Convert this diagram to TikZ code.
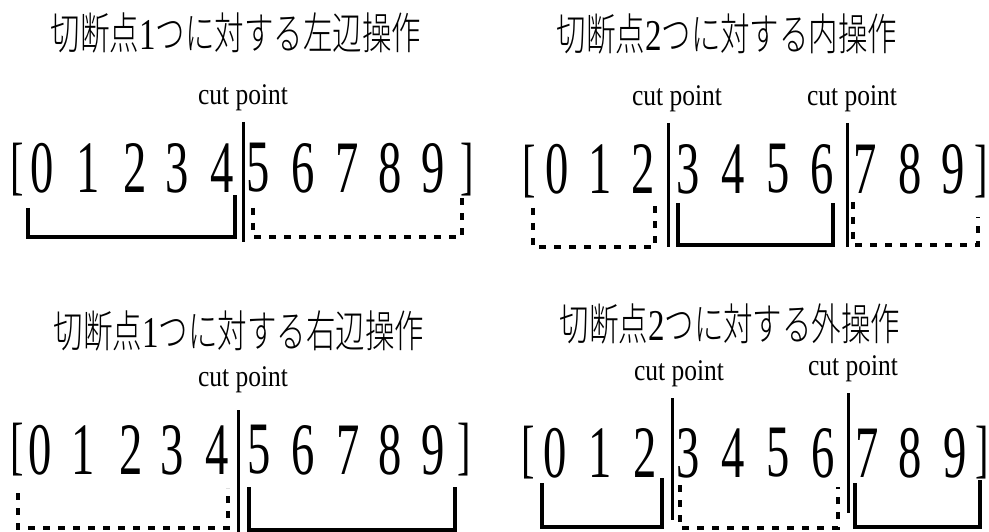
\documentclass[tikz,border=0pt]{standalone}
\usepackage{fontspec}
\setmainfont{Liberation Serif}
\newfontfamily\digfont[FakeStretch=0.63]{Liberation Serif}
\newfontfamily\cpfont[FakeStretch=0.85]{Liberation Serif}
\newfontfamily\tlatin[FakeStretch=0.75]{Liberation Serif}
\newfontfamily\cjk[FakeStretch=0.67]{Noto Sans CJK JP Light}
\tikzset{
  dg/.style={inner sep=0pt, font=\digfont\fontsize{74}{80}\selectfont},
  brk/.style={inner sep=0pt, font=\digfont\fontsize{64}{70}\selectfont},
  cpt/.style={inner sep=0pt, font=\cpfont\fontsize{30}{34}\selectfont},
  ttl/.style={inner sep=0pt, font=\fontsize{44}{48}\selectfont},
  cutline/.style={line width=3pt},
  solidbr/.style={line width=4pt},
  dashbr/.style={line width=4.5pt, dash pattern=on 7pt off 8pt},
}
\newcommand\jt[3]{{\cjk #1}{\tlatin #2}{\cjk #3}}
\begin{document}
\begin{tikzpicture}[x=1pt,y=-1pt]
\useasboundingbox (0,0) rectangle (989,532);
% ---------- Panel 1 ----------
\node[ttl] (t1) at (236,33) {\jt{切断点}{1}{つに対する左辺操作}};
\node[cpt] (c1) at (243,97.5) {cut point};
\node[brk] (a1l) at (17.5,170) {[};
\node[brk] (a1r) at (467,170) {]};
\foreach \d/\x in {0/42,1/88,2/135,3/177,4/222,5/258,6/303,7/347,8/390,9/433}
  \node[dg] (a1d\d) at (\x,168) {\d};
\draw[cutline] (243,122) -- (243,242);
\draw[solidbr] (28,208) -- (28,237) -- (235,237) -- (235,195);
\draw[dashbr] (253,208) -- (253,237) -- (462,237) -- (462,198);
% ---------- Panel 2 ----------
\node[ttl] (t2) at (727,34) {\jt{切断点}{2}{つに対する内操作}};
\node[cpt] (c2a) at (677,99) {cut point};
\node[cpt] (c2b) at (852,99) {cut point};
\node[brk] (a2l) at (529,172) {[};
\node[brk] (a2r) at (981,172) {]};
\foreach \d/\x in {0/557,1/600,2/643,3/688,4/733,5/778,6/822,7/865,8/910,9/953}
  \node[dg] (a2d\d) at (\x,169) {\d};
\draw[cutline] (668,123) -- (668,247);
\draw[cutline] (847,123) -- (847,247);
\draw[dashbr] (533,208) -- (533,247) -- (655,247) -- (655,205);
\draw[solidbr] (678,203) -- (678,245) -- (833,245) -- (833,203);
\draw[dashbr] (853,202) -- (853,245) -- (978,245) -- (978,217);
% ---------- Panel 3 ----------
\node[ttl] (t3) at (239,331) {\jt{切断点}{1}{つに対する右辺操作}};
\node[cpt] (c3) at (243,380) {cut point};
\node[brk] (a3l) at (17,450) {[};
\node[brk] (a3r) at (464,450) {]};
\foreach \d/\x in {0/40,1/83,2/131,3/172,4/217,5/259,6/303,7/348,8/390,9/433}
  \node[dg] (a3d\d) at (\x,450) {\d};
\draw[cutline] (238,410) -- (238,532);
\draw[dashbr] (18,493) -- (18,528) -- (228,528) -- (228,488);
\draw[solidbr] (249,487) -- (249,530) -- (455,530) -- (455,487);
% ---------- Panel 4 ----------
\node[ttl] (t4) at (730,324) {\jt{切断点}{2}{つに対する外操作}};
\node[cpt] (c4a) at (679,374) {cut point};
\node[cpt] (c4b) at (853,369) {cut point};
\node[brk] (a4l) at (528,453) {[};
\node[brk] (a4r) at (982,453) {]};
\foreach \d/\x in {0/555,1/600,2/645,3/688,4/733,5/778,6/823,7/867,8/910,9/955}
  \node[dg] (a4d\d) at (\x,453) {\d};
\draw[cutline] (672,398) -- (672,520);
\draw[cutline] (848,393) -- (848,513);
\draw[solidbr] (542,483) -- (542,527) -- (662,527) -- (662,478);
\draw[dashbr] (680,485) -- (680,528) -- (838,528) -- (838,487);
\draw[solidbr] (855,483) -- (855,527) -- (980,527) -- (980,480);
\end{tikzpicture}
\end{document}
